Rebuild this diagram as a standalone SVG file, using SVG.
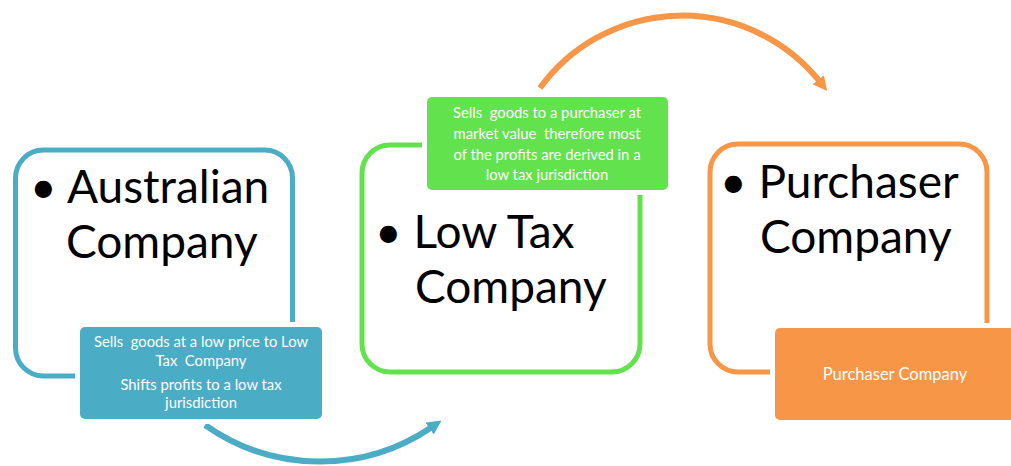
<svg xmlns="http://www.w3.org/2000/svg" width="1011" height="466" viewBox="0 0 1011 466">
<style>
.frame{fill:none;stroke-width:5}
.big{font-family:Lato,"Liberation Sans",sans-serif;font-size:46px;fill:#000}
.small{font-family:Lato,"Liberation Sans",sans-serif;font-size:14.8px;fill:#fff;text-anchor:middle;white-space:pre}
.gap{fill:#fff}
.conn{fill:none;stroke-width:6}
</style>
<defs>
<marker id="ab" viewBox="0 0 10 10" refX="2" refY="5" markerWidth="2.4" markerHeight="2.4" orient="auto"><path d="M0,0 L10,5 L0,10 z" fill="#4BACC6"/></marker>
<marker id="ao" viewBox="0 0 10 10" refX="2" refY="5" markerWidth="2.4" markerHeight="2.4" orient="auto"><path d="M0,0 L10,5 L0,10 z" fill="#F79646"/></marker>
</defs>
<rect width="1011" height="466" fill="#fff"/>
<g id="connectors">
<path class="conn" stroke="#4BACC6" d="M205,425 A199,199 0 0 0 432,427" marker-end="url(#ab)"/>
<path class="conn" stroke="#F79646" d="M540,88 A176,176 0 0 1 820,82" marker-end="url(#ao)"/>
</g>
<g id="australian">
<rect class="frame" x="15.5" y="150" width="277" height="226" rx="28" stroke="#4BACC6"/>
<text class="big" x="30" y="203">• Australian</text>
<text class="big" x="66" y="258">Company</text>
<rect class="gap" x="75" y="322" width="252" height="102" rx="8"/>
<rect x="80" y="327" width="242" height="92" rx="5" fill="#4BACC6"/>
<text class="small" x="201" y="347" xml:space="preserve">Sells  goods at a low price to Low</text>
<text class="small" x="201" y="366" xml:space="preserve">Tax  Company</text>
<text class="small" x="201" y="390">Shifts profits to a low tax</text>
<text class="small" x="201" y="408">jurisdiction</text>
</g>
<g id="lowtax">
<rect class="frame" x="362" y="145" width="278" height="227" rx="28" stroke="#62E24D"/>
<text class="big" x="375" y="248">• Low Tax</text>
<text class="big" x="415" y="303">Company</text>
<rect class="gap" x="422" y="92" width="251" height="103" rx="8"/>
<rect x="427" y="97" width="241" height="93" rx="5" fill="#62E24D"/>
<text class="small" x="547" y="118" xml:space="preserve">Sells  goods to a purchaser at</text>
<text class="small" x="547" y="139" xml:space="preserve">market value  therefore most</text>
<text class="small" x="547" y="160">of the profits are derived in a</text>
<text class="small" x="547" y="180">low tax jurisdiction</text>
</g>
<g id="purchaser">
<rect class="frame" x="710" y="144" width="277" height="228" rx="28" stroke="#F79646"/>
<text class="big" x="720" y="198">• Purchaser</text>
<text class="big" x="760" y="253">Company</text>
<rect class="gap" x="770" y="323" width="260" height="102" rx="8"/>
<rect x="775" y="328" width="250" height="92" rx="5" fill="#F79646"/>
<text class="small" x="895" y="380" style="font-size:16.5px">Purchaser Company</text>
</g>
</svg>
